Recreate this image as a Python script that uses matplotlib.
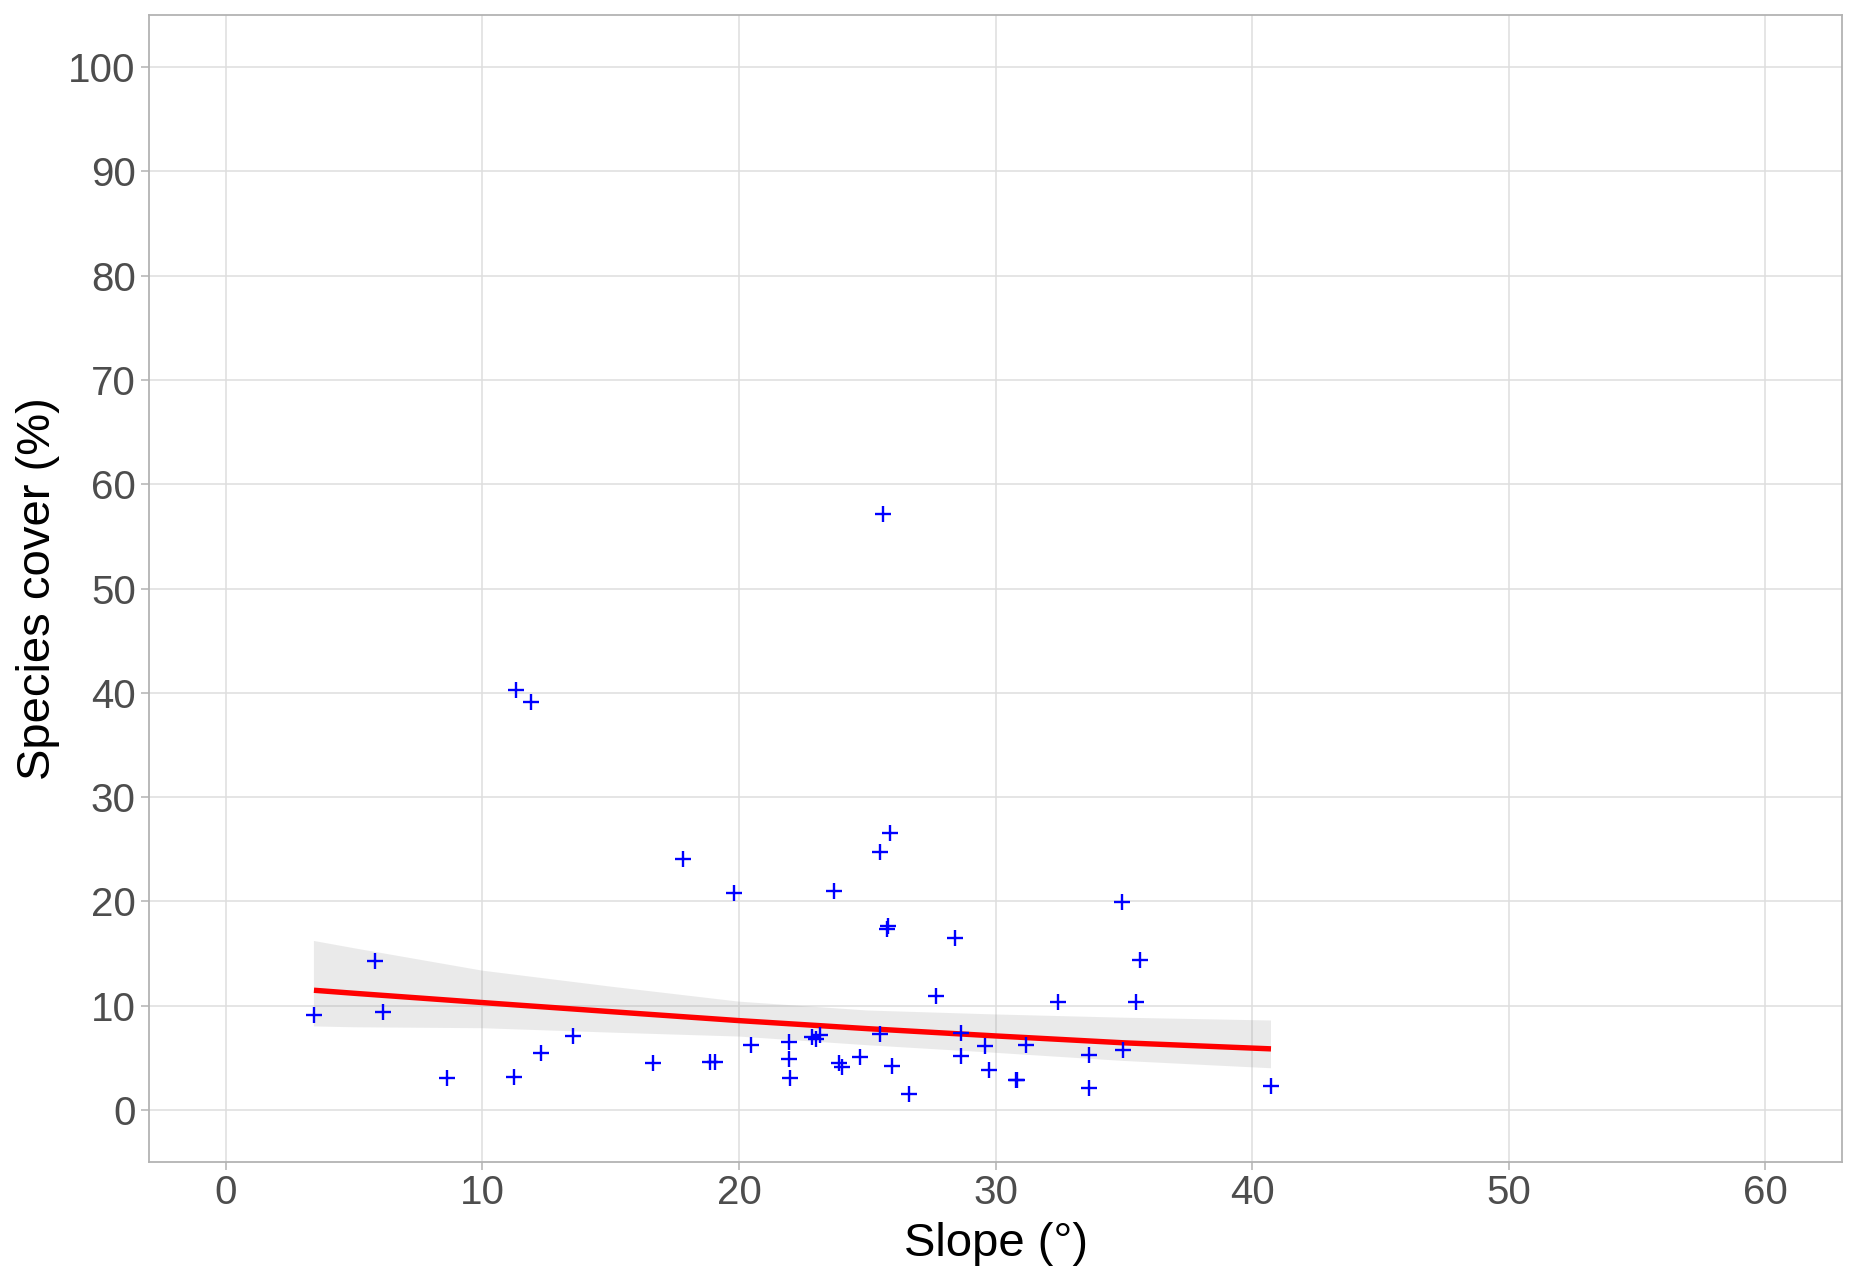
import matplotlib
matplotlib.use("Agg")
import matplotlib.pyplot as plt
import numpy as np

# ---- data ----
slope = [3.43, 5.82, 6.12, 8.63, 11.21, 11.31, 11.88, 12.28, 13.54, 16.64,
         17.81, 18.88, 19.06, 19.81, 20.45, 21.94, 21.94, 21.99, 22.85, 23.00,
         23.15, 23.70, 23.88, 24.03, 24.73, 25.48, 25.51, 25.61, 25.77, 25.80,
         25.87, 25.97, 26.62, 27.69, 28.44, 28.66, 28.64, 29.58, 29.73, 30.78,
         30.85, 31.19, 32.45, 33.64, 33.64, 34.92, 34.97, 35.49, 35.65, 40.74]
cover = [9.11, 14.31, 9.36, 3.07, 3.19, 40.26, 39.07, 5.50, 7.12, 4.50,
         24.03, 4.63, 4.63, 20.77, 6.23, 6.49, 4.92, 3.07, 7.00, 6.80,
         7.20, 21.02, 4.47, 4.15, 5.05, 7.30, 24.69, 57.10, 17.30, 17.60,
         26.55, 4.19, 1.51, 10.93, 16.51, 7.33, 5.16, 6.16, 3.84, 2.83,
         2.90, 6.24, 10.35, 5.23, 2.09, 19.92, 5.78, 10.35, 14.34, 2.33]

# fitted trend and 95% band
fit_x = [3.43, 5.0, 10.0, 15.0, 20.0, 25.0, 30.0, 35.0, 40.74]
fit_y = [11.47, 11.18, 10.29, 9.42, 8.56, 7.79, 7.09, 6.43, 5.85]
fit_hi = [16.2, 15.5, 13.35, 11.82, 10.38, 9.53, 9.15, 8.84, 8.57]
fit_lo = [8.0, 7.92, 7.83, 7.41, 7.03, 6.20, 5.47, 4.69, 3.99]

x_ticks = [0, 10, 20, 30, 40, 50, 60]
y_ticks = [0, 10, 20, 30, 40, 50, 60, 70, 80, 90, 100]

plt.rcParams['font.family'] = ['Liberation Sans', 'DejaVu Sans']

fig = plt.figure(figsize=(18.55, 12.78), dpi=100)
ax = fig.add_axes([149 / 1855, 1 - 1162 / 1278, (1842 - 149) / 1855, (1162 - 15) / 1278])

ax.set_xlim(-3, 63)
ax.set_ylim(-5, 105)
ax.set_xticks(x_ticks)
ax.set_yticks(y_ticks)
ax.grid(True, color='#DEDEDE', linewidth=1.1, zorder=0)
ax.set_axisbelow(True)

ax.fill_between(fit_x, fit_lo, fit_hi, facecolor='#999999', alpha=0.2,
                edgecolor='none', zorder=2)
ax.plot(fit_x, fit_y, color='#FF0000', linewidth=3.9, zorder=3,
        solid_capstyle='butt')
ax.plot(slope, cover, linestyle='none', marker='+', markersize=11.5,
        markeredgewidth=1.7, color='#0000FF', zorder=4)

for s in ax.spines.values():
    s.set_color('#B3B3B3')
    s.set_linewidth(1.3)

ax.tick_params(axis='both', which='major', direction='out', length=5.5,
               width=1.1, color='#B3B3B3', labelcolor='#4D4D4D', labelsize=29)
ax.tick_params(axis='x', pad=3.5)
ax.tick_params(axis='y', pad=4.0)

ax.set_xlabel('Slope (°)', fontsize=34, color='black', labelpad=7)
ax.set_ylabel('Species cover (%)', fontsize=34, color='black', labelpad=6)

fig.savefig('out.png', dpi=100, facecolor='white')
